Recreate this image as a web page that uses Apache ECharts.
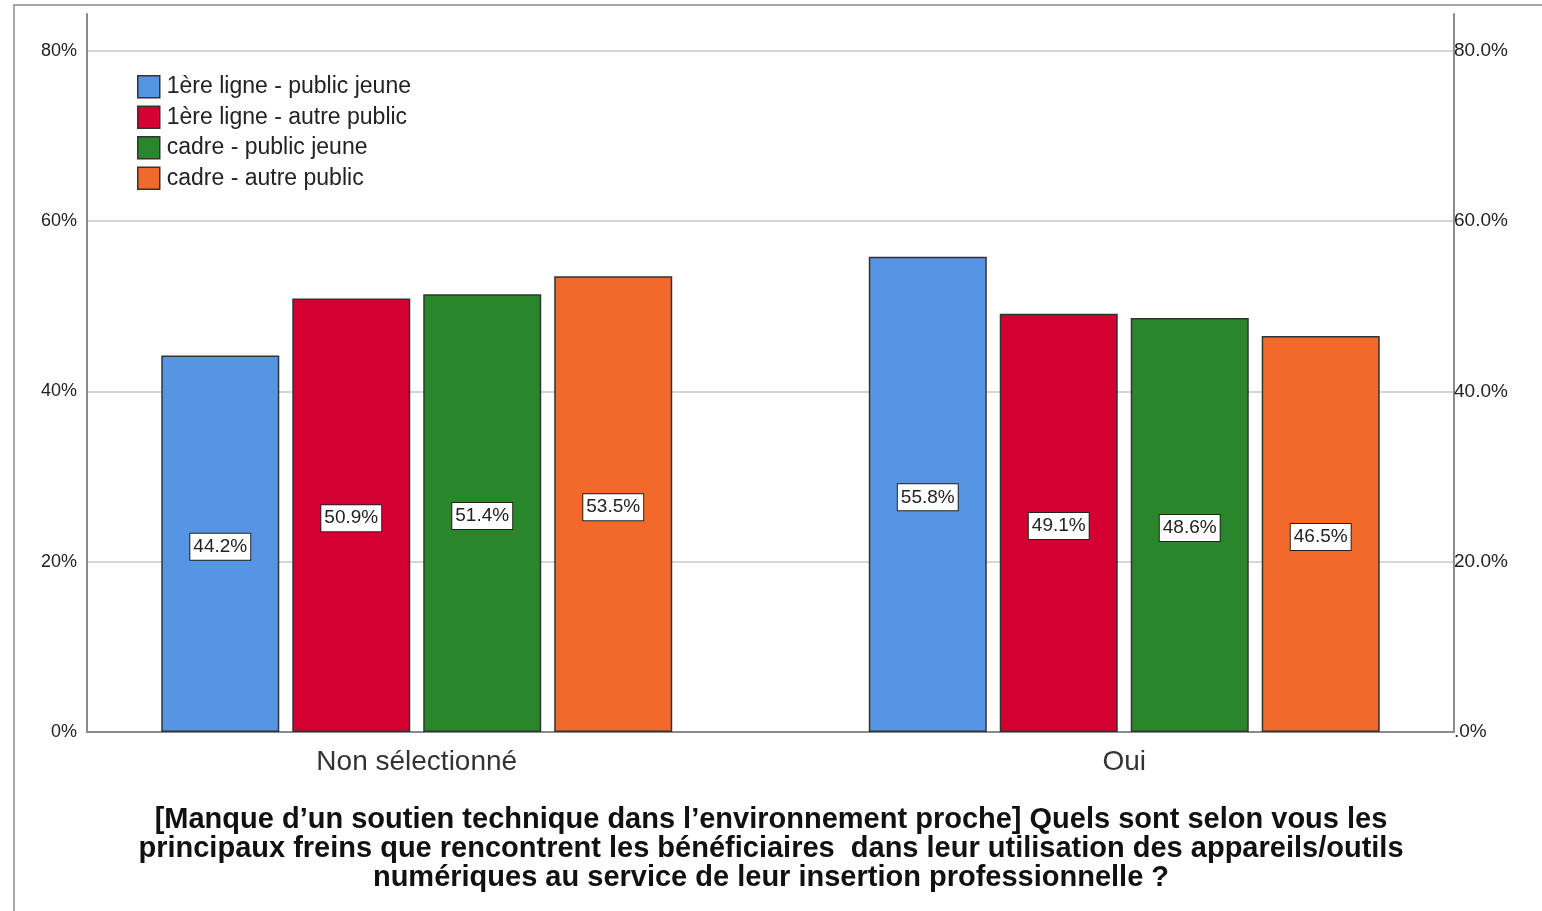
<!DOCTYPE html>
<html>
<head>
<meta charset="utf-8">
<script src="https://cdn.jsdelivr.net/npm/echarts@6/dist/echarts.min.js"></script>
<style>
  html, body { margin: 0; padding: 0; background: #fff; }
  #chart { width: 1542px; height: 911px; }
</style>
</head>
<body>
<div id="chart"></div>
<script>
var categories = ["Non sélectionné", "Oui"];
var seriesNames = [
  "1ère ligne - public jeune",
  "1ère ligne - autre public",
  "cadre - public jeune",
  "cadre - autre public"
];
var seriesValues = [
  [44.2, 55.8],
  [50.9, 49.1],
  [51.4, 48.6],
  [53.5, 46.5]
];
var seriesColors = ["#5595E3", "#D50032", "#29862A", "#F2692C"];
var titleText = "[Manque d\u2019un soutien technique dans l\u2019environnement proche] Quels sont selon vous les\n" +
  "principaux freins que rencontrent les bénéficiaires  dans leur utilisation des appareils/outils\n" +
  "numériques au service de leur insertion professionnelle ?";

var fontFamily = "'Liberation Sans', Arial, sans-serif";
var yMax = 84.3;

var MyEcharts = echarts.init(document.getElementById("chart"));

var series = seriesNames.map(function (name, i) {
  return {
    name: name,
    type: "bar",
    xAxisIndex: 1,
    yAxisIndex: 2,
    barWidth: 118,
    barGap: "11%",
    data: seriesValues[i],
    itemStyle: {
      color: seriesColors[i],
      borderColor: "#333",
      borderWidth: 1.5
    },
    label: {
      show: true,
      position: "inside",
      offset: [0, 3],
      formatter: "{c}%",
      fontFamily: fontFamily,
      fontSize: 19,
      color: "#222",
      backgroundColor: "#fff",
      borderColor: "#222",
      borderWidth: 1,
      padding: [4, 3, 3, 3]
    },
    emphasis: { disabled: true }
  };
});

var option = {
  animation: false,
  textStyle: { fontFamily: fontFamily },
  graphic: [
    {
      type: "rect",
      shape: { x: 14, y: 5, width: 1600, height: 1000 },
      style: { fill: "none", stroke: "#8a8a8a", lineWidth: 1.5 },
      silent: true
    },
    {
      type: "text",
      left: "center",
      top: 805,
      style: {
        text: titleText,
        font: "bold 29px " + fontFamily,
        fill: "#111",
        textAlign: "center",
        lineHeight: 29
      }
    }
  ],
  legend: {
    orient: "vertical",
    left: 137,
    top: 75,
    padding: 0,
    itemWidth: 22,
    itemHeight: 22,
    itemGap: 7,
    icon: "rect",
    itemStyle: { borderColor: "#333", borderWidth: 1.5 },
    textStyle: { fontSize: 23, color: "#222", fontFamily: fontFamily, padding: [0, 0, 0, 2] },
    data: seriesNames
  },
  grid: [
    { left: 87, right: 88, top: 14, bottom: 179 },
    { left: 63, right: 64, top: 14, bottom: 179 }
  ],
  xAxis: [
    {
      gridIndex: 0,
      type: "category",
      data: categories,
      axisLine: { show: true, lineStyle: { color: "#8a8a8a", width: 2 } },
      axisTick: { show: false },
      axisLabel: { show: false },
      splitLine: { show: false }
    },
    {
      gridIndex: 1,
      type: "category",
      data: categories,
      axisLine: { show: false },
      axisTick: { show: false },
      axisLabel: { fontSize: 28, color: "#333", margin: 16, fontFamily: fontFamily }
    }
  ],
  yAxis: [
    {
      gridIndex: 0,
      type: "value",
      position: "left",
      min: 0,
      max: yMax,
      interval: 20,
      axisLine: { show: true, lineStyle: { color: "#8a8a8a", width: 2 } },
      axisTick: { show: false },
      axisLabel: {
        formatter: "{value}%",
        fontSize: 18,
        color: "#222",
        margin: 10,
        showMaxLabel: false
      },
      splitLine: { show: true, showMaxLine: false, lineStyle: { color: "#d6d6d6", width: 2 } }
    },
    {
      gridIndex: 0,
      type: "value",
      position: "right",
      min: 0,
      max: yMax,
      interval: 20,
      axisLine: { show: true, lineStyle: { color: "#8a8a8a", width: 2 } },
      axisTick: { show: false },
      axisLabel: {
        formatter: function (v) { return v === 0 ? ".0%" : v.toFixed(1) + "%"; },
        fontSize: 19,
        color: "#222",
        margin: 0,
        showMaxLabel: false
      },
      splitLine: { show: false }
    },
    {
      gridIndex: 1,
      type: "value",
      min: 0,
      max: yMax,
      show: false
    }
  ],
  series: series
};

MyEcharts.setOption(option);
</script>
</body>
</html>
